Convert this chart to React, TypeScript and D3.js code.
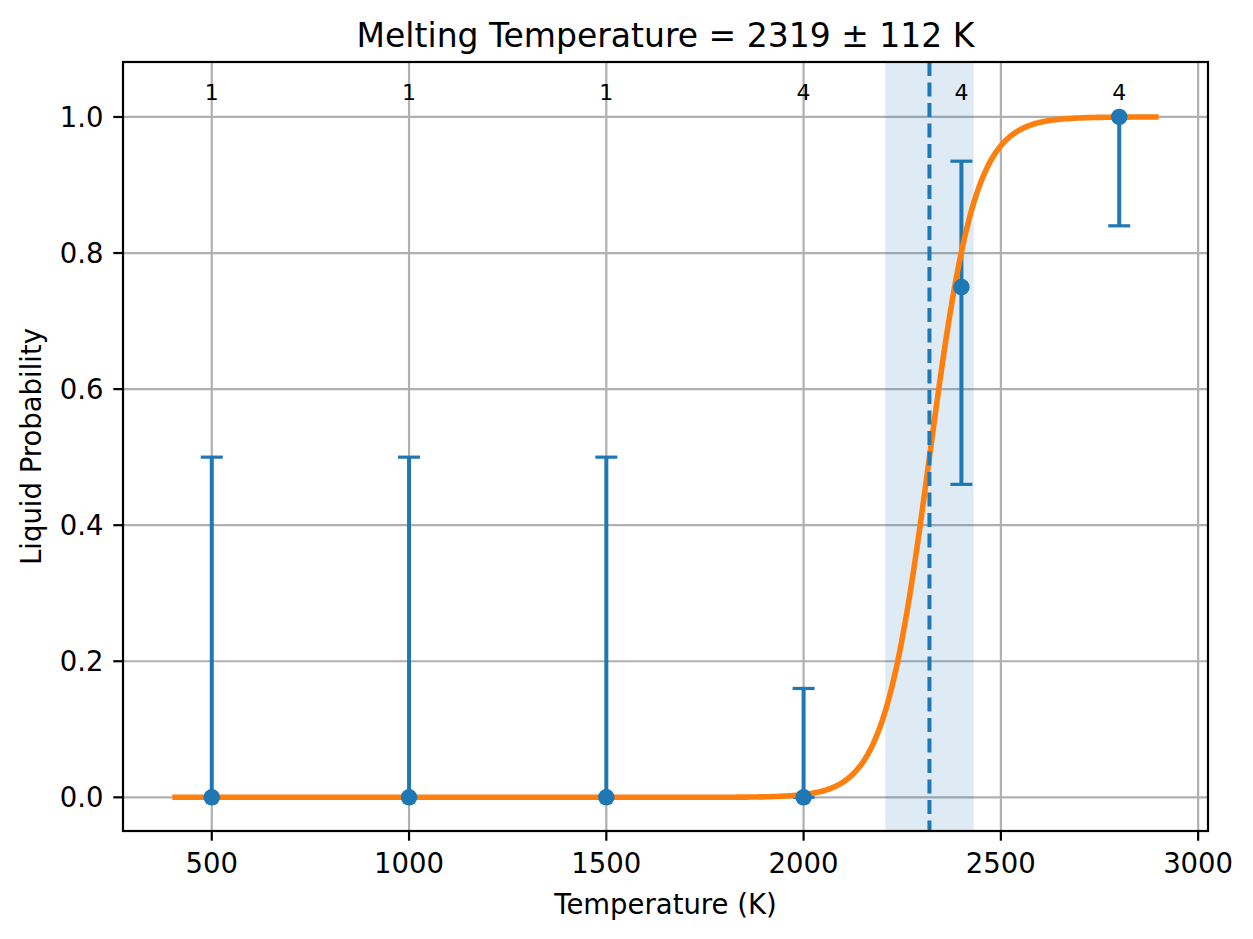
import { useEffect, useRef } from 'react';
import * as d3 from 'd3';

// measured temperatures and liquid fraction with binomial error bars
const temperatures = [500, 1000, 1500, 2000, 2400, 2800];
const liquidProb = [0, 0, 0, 0, 0.75, 1.0];
const errLower = [0, 0, 0, 0, 0.29, 0.16];
const errUpper = [0.5, 0.5, 0.5, 0.16, 0.185, 0];
const counts = [1, 1, 1, 4, 4, 4];

// logistic fit
const meltT = 2319;
const meltErr = 112;
const fitWidth = 58;
const fitRange = [400, 2900];
const fitSteps = 400;

const xTicks = [500, 1000, 1500, 2000, 2500, 3000];
const yTicks = [0, 0.2, 0.4, 0.6, 0.8, 1.0];

const BLUE = '#1f77b4';
const ORANGE = '#ff7f0e';
const FONT = 'DejaVu Sans, sans-serif';
const TICK_SIZE = 27.5;

const MeltChart = () => {
  const ref = useRef<SVGSVGElement>(null);

  useEffect(() => {
    if (!ref.current) return;
    const svg = d3.select(ref.current);
    svg.selectAll('*').remove();

    const left = 123, right = 1208, top = 62, bottom = 831;

    const x = d3.scaleLinear().domain([275, 3025]).range([left, right]);
    const y = d3.scaleLinear().domain([-0.0495, 1.0808]).range([bottom, top]);

    svg.append('rect')
      .attr('width', 1253).attr('height', 939).attr('fill', 'white');

    // grid
    const grid = svg.append('g').attr('stroke', '#b0b0b0').attr('stroke-width', 2.2);
    grid.selectAll('line.gx').data(xTicks.filter(t => x(t) < right)).join('line')
      .attr('x1', d => x(d)).attr('x2', d => x(d)).attr('y1', top).attr('y2', bottom);
    grid.selectAll('line.gy').data(yTicks).join('line')
      .attr('class', 'gy')
      .attr('y1', d => y(d)).attr('y2', d => y(d)).attr('x1', left).attr('x2', right);

    // uncertainty band on the melting temperature
    svg.append('rect')
      .attr('x', x(meltT - meltErr))
      .attr('width', x(meltT + meltErr) - x(meltT - meltErr))
      .attr('y', top).attr('height', bottom - top)
      .attr('fill', BLUE).attr('fill-opacity', 0.15);

    // error bars
    const bars = svg.append('g').attr('stroke', BLUE).attr('stroke-width', 4);
    temperatures.forEach((t, i) => {
      const lo = liquidProb[i] - errLower[i];
      const hi = liquidProb[i] + errUpper[i];
      bars.append('line')
        .attr('x1', x(t)).attr('x2', x(t)).attr('y1', y(lo)).attr('y2', y(hi));
      [lo, hi].forEach(v => {
        bars.append('line')
          .attr('x1', x(t) - 11).attr('x2', x(t) + 11)
          .attr('y1', y(v)).attr('y2', y(v)).attr('stroke-width', 3.2);
      });
    });

    // fitted curve
    const fitT = d3.range(fitSteps + 1).map(k => fitRange[0] + (fitRange[1] - fitRange[0]) * k / fitSteps);
    const line = d3.line<number>()
      .x(t => x(t))
      .y(t => y(1 / (1 + Math.exp(-(t - meltT) / fitWidth))));
    svg.append('path')
      .datum(fitT)
      .attr('d', line)
      .attr('fill', 'none')
      .attr('stroke', ORANGE)
      .attr('stroke-width', 5.6);

    // markers
    svg.selectAll('circle.pt').data(temperatures).join('circle')
      .attr('cx', d => x(d))
      .attr('cy', (_, i) => y(liquidProb[i]))
      .attr('r', 8.3)
      .attr('fill', BLUE);

    // melting temperature
    svg.append('line')
      .attr('x1', x(meltT)).attr('x2', x(meltT))
      .attr('y1', top).attr('y2', bottom)
      .attr('stroke', BLUE).attr('stroke-width', 4)
      .attr('stroke-dasharray', '14,6.5');

    // sample counts
    svg.selectAll('text.cnt').data(temperatures).join('text')
      .attr('x', d => x(d))
      .attr('y', y(1.025))
      .attr('text-anchor', 'middle')
      .attr('font-family', FONT)
      .attr('font-size', 22)
      .text((_, i) => String(counts[i]));

    // frame
    svg.append('rect')
      .attr('x', left).attr('y', top)
      .attr('width', right - left).attr('height', bottom - top)
      .attr('fill', 'none').attr('stroke', 'black').attr('stroke-width', 2.2);

    // x axis
    const xa = svg.append('g');
    xTicks.forEach(t => {
      xa.append('line')
        .attr('x1', x(t)).attr('x2', x(t)).attr('y1', bottom).attr('y2', bottom + 9.7)
        .attr('stroke', 'black').attr('stroke-width', 2.2);
      xa.append('text')
        .attr('x', x(t)).attr('y', bottom + 42)
        .attr('text-anchor', 'middle')
        .attr('font-family', FONT).attr('font-size', TICK_SIZE)
        .text(d3.format('d')(t));
    });

    // y axis
    const ya = svg.append('g');
    yTicks.forEach(t => {
      ya.append('line')
        .attr('x1', left - 9.7).attr('x2', left).attr('y1', y(t)).attr('y2', y(t))
        .attr('stroke', 'black').attr('stroke-width', 2.2);
      ya.append('text')
        .attr('x', left - 19.4).attr('y', y(t))
        .attr('dy', '0.36em')
        .attr('text-anchor', 'end')
        .attr('font-family', FONT).attr('font-size', TICK_SIZE)
        .text(d3.format('.1f')(t));
    });

    svg.append('text')
      .attr('x', (left + right) / 2).attr('y', 914)
      .attr('text-anchor', 'middle')
      .attr('font-family', FONT).attr('font-size', TICK_SIZE)
      .text('Temperature (K)');

    svg.append('text')
      .attr('transform', `translate(41,${(top + bottom) / 2}) rotate(-90)`)
      .attr('text-anchor', 'middle')
      .attr('font-family', FONT).attr('font-size', TICK_SIZE)
      .text('Liquid Probability');

    svg.append('text')
      .attr('x', (left + right) / 2).attr('y', 47)
      .attr('text-anchor', 'middle')
      .attr('font-family', FONT).attr('font-size', 33)
      .text(`Melting Temperature = ${meltT} ± ${meltErr} K`);
  }, []);

  return (
    <svg
      ref={ref}
      width={1253}
      height={939}
      style={{ position: 'absolute', left: 0, top: 0 }}
    />
  );
};

export default function App() {
  return <MeltChart />;
}
